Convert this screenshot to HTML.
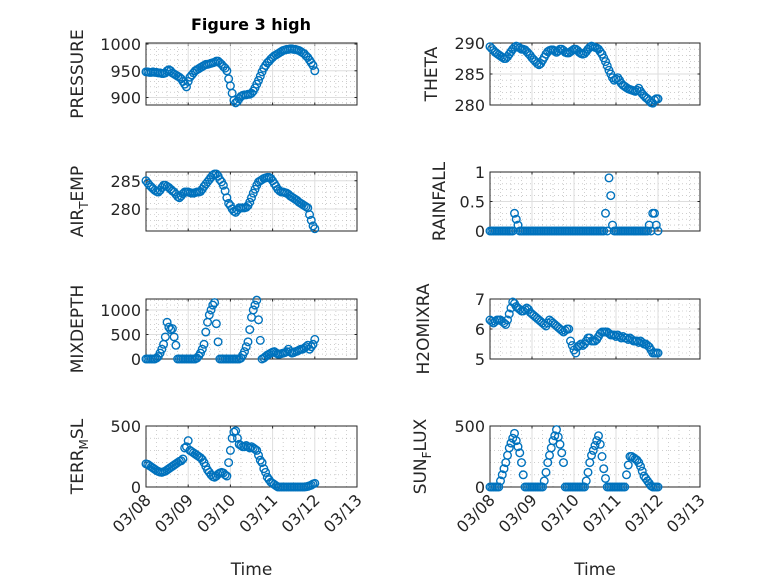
<!DOCTYPE html>
<html><head><meta charset="utf-8"><style>
body{margin:0;background:#fff;}
svg{display:block;font-family:"DejaVu Sans","Liberation Sans",sans-serif;}
</style></head><body>
<svg id="fig" width="778" height="583" viewBox="0 0 778 583">
<rect width="778" height="583" fill="#fff"/>
<text x="251" y="30" text-anchor="middle" font-size="16" font-weight="bold" fill="#000">Figure 3 high</text>
</svg>
<script>
const hoursDays = ['03/08','03/09','03/10','03/11','03/12','03/13'];
const pressure = [948,948,947,947,948,947,947,946,946,945,945,946,
950,952,950,946,944,942,940,938,935,930,925,920,
930,938,942,946,950,952,954,956,958,960,962,962,
963,964,965,966,968,968,965,962,958,955,950,935,
922,908,895,890,893,898,902,904,905,905,906,906,
908,912,918,925,932,940,948,955,960,965,968,972,
975,978,980,982,984,986,988,989,990,990,991,991,
990,990,989,988,986,984,982,978,975,970,965,960,950];
const airTemp = [285,284.6,284.2,283.9,283.6,283.3,283.1,283.0,283.3,283.8,284.2,284.2,
284.0,283.8,283.5,283.2,283.0,282.6,282.2,282.0,282.3,282.7,283.0,283.0,
283.0,282.9,282.8,282.8,282.9,283.0,283.0,283.1,283.5,284.0,284.4,284.8,
285.2,285.6,286.0,286.2,286.2,285.8,285.2,284.8,284.2,283.2,282.0,281.0,
280.6,280.0,279.6,279.4,279.8,280.2,280.2,280.2,280.2,280.3,280.6,281.2,
282.0,282.8,283.5,284.2,284.8,285.0,285.2,285.4,285.5,285.6,285.6,285.4,
285.0,284.5,284.0,283.5,283.2,283.0,283.0,282.9,282.8,282.6,282.3,282.1,
281.9,281.7,281.5,281.2,281.0,280.8,280.6,280.4,280.2,279.0,278.0,277.0,276.5];
const theta = [289.4,289.1,288.8,288.5,288.3,288.1,287.9,287.7,287.5,287.5,287.8,288.2,
288.6,289.0,289.3,289.5,289.4,289.2,289.0,289.0,288.9,288.6,288.3,288.0,
287.6,287.3,287.0,286.7,286.5,286.7,287.2,287.7,288.2,288.6,288.8,288.9,
288.9,288.7,288.5,288.7,289.0,289.0,288.8,288.5,288.4,288.4,288.6,288.8,
289.0,289.0,288.8,288.5,288.3,288.2,288.3,288.6,289.0,289.3,289.5,289.4,
289.3,289.2,289.0,288.6,288.2,287.6,287.0,286.3,285.6,285.0,284.4,284.0,
284.2,284.4,284.0,283.5,283.2,283.0,282.8,282.6,282.5,282.4,282.3,282.2,
282.4,282.7,282.2,281.8,281.5,281.2,281.0,280.7,280.4,280.3,280.8,281.0,281.0];
const rainfall = [0,0,0,0,0,0,0,0,0,0,0,0,
0,0,0.3,0.2,0.1,0,0,0,0,0,0,0,
0,0,0,0,0,0,0,0,0,0,0,0,
0,0,0,0,0,0,0,0,0,0,0,0,
0,0,0,0,0,0,0,0,0,0,0,0,
0,0,0,0,0,0,0.3,0,0.9,0.6,0.1,0,
0,0,0,0,0,0,0,0,0,0,0,0,
0,0,0,0,0,0,0,0.1,0,0.3,0.3,0.1,0];
const mixDepth = [0,0,0,0,0,0,20,50,120,200,300,450,
750,650,600,620,450,280,0,0,0,0,0,0,
0,0,0,0,0,20,60,120,200,300,550,750,
900,1000,1100,1150,720,350,0,0,0,0,0,0,
0,0,0,0,0,0,20,80,150,250,350,600,
850,1000,1100,1200,800,380,0,20,50,80,100,120,
140,150,120,100,100,110,120,130,150,200,150,120,
130,150,160,180,200,200,220,250,280,200,250,300,400];
const h2oMix = [6.3,6.25,6.2,6.25,6.3,6.3,6.3,6.25,6.2,6.15,6.3,6.5,
6.7,6.9,6.85,6.75,6.7,6.65,6.6,6.6,6.65,6.7,6.65,6.55,
6.5,6.45,6.4,6.35,6.3,6.25,6.2,6.15,6.1,6.2,6.3,6.25,
6.2,6.15,6.1,6.05,6.0,5.95,5.9,5.95,6.0,6.0,5.6,5.45,
5.3,5.2,5.4,5.45,5.5,5.45,5.5,5.6,5.7,5.7,5.6,5.6,
5.6,5.65,5.75,5.85,5.9,5.9,5.9,5.9,5.85,5.8,5.8,5.8,
5.75,5.8,5.75,5.7,5.75,5.7,5.7,5.65,5.7,5.65,5.6,5.6,
5.6,5.55,5.6,5.55,5.5,5.5,5.45,5.4,5.3,5.2,5.2,5.2,5.2];
const terrMsl = [190,185,175,165,155,145,135,128,122,120,125,130,
140,150,160,170,180,190,200,210,215,230,320,330,
380,300,290,280,270,260,250,240,225,200,170,140,
120,100,85,80,90,105,115,120,115,100,90,200,
300,400,450,460,400,350,340,330,330,340,330,320,
330,320,310,300,260,220,200,150,120,80,60,40,
30,20,10,0,0,0,0,0,0,0,0,0,
0,0,0,0,0,0,0,2,5,10,15,25,30];
const sunFlux = [0,0,0,0,0,0,50,100,150,200,260,320,
360,400,440,380,330,280,200,100,0,0,0,0,
0,0,0,0,0,0,0,50,120,200,260,320,
380,420,470,410,350,280,200,0,0,0,0,0,
0,0,0,0,0,0,0,50,120,200,260,300,
340,380,420,350,250,150,70,0,0,0,0,0,
0,0,0,0,0,0,100,180,250,250,240,230,
220,200,170,130,90,70,50,30,10,0,0,0,0];

const pressureTicks=[900,950,1000], airTicks=[280,285], thetaTicks=[280,285,290],
rainTicks=[0,0.5,1], mixTicks=[0,500,1000], h2oTicks=[5,6,7], terrTicks=[0,500], sunTicks=[0,500];

const NS='http://www.w3.org/2000/svg';
const svg=document.getElementById('fig');
function mk(tag,attrs,parent){const e=document.createElementNS(NS,tag);for(const k in attrs)e.setAttribute(k,attrs[k]);(parent||svg).appendChild(e);return e;}

const cols=[[146,357],[490,700]];
const rows=[[43,105],[172,231],[299,359],[426,487]];
const panels=[
 {name:'pressure',col:0,row:0,data:pressure,ticks:pressureTicks,ylim:[886,1002],minor:10,label:['PRESSURE'],lx:77},
 {name:'theta',col:1,row:0,data:theta,ticks:thetaTicks,ylim:[280,290],minor:1,label:['THETA'],lx:431},
 {name:'air-temp',col:0,row:1,data:airTemp,ticks:airTicks,ylim:[276.1,286.55],minor:1,label:['AIR','T','EMP'],lx:77},
 {name:'rainfall',col:1,row:1,data:rainfall,ticks:rainTicks,ylim:[0,1],minor:0.1,label:['RAINFALL'],lx:439},
 {name:'mixdepth',col:0,row:2,data:mixDepth,ticks:mixTicks,ylim:[0,1224],minor:100,label:['MIXDEPTH'],lx:77},
 {name:'h2omixra',col:1,row:2,data:h2oMix,ticks:h2oTicks,ylim:[5,7],minor:0.2,label:['H2OMIXRA'],lx:423},
 {name:'terr-msl',col:0,row:3,data:terrMsl,ticks:terrTicks,ylim:[0,500],minor:100,label:['TERR','M','SL'],lx:77},
 {name:'sun-flux',col:1,row:3,data:sunFlux,ticks:sunTicks,ylim:[0,500],minor:100,label:['SUN','F','LUX'],lx:420}
];

panels.forEach(p=>{
 const [x0,x1]=cols[p.col],[y0,y1]=rows[p.row];
 const xs=h=>x0+(x1-x0)*h/120;
 const ys=v=>y1-(y1-y0)*(v-p.ylim[0])/(p.ylim[1]-p.ylim[0]);
 const g=mk('g',{});
 
 
 mk('rect',{x:x0,y:y0,width:x1-x0,height:y1-y0,fill:'#fff'},g);
 for(let h=6;h<120;h+=6){if(h%24)mk('line',{x1:xs(h),x2:xs(h),y1:y0,y2:y1,stroke:'#b0b0b0','stroke-width':0.6,'stroke-dasharray':'1 3'},g);}
 const s=Math.ceil(p.ylim[0]/p.minor)*p.minor;
 for(let v=s;v<p.ylim[1];v+=p.minor){if(!p.ticks.some(t=>Math.abs(t-v)<1e-6))mk('line',{x1:x0,x2:x1,y1:ys(v),y2:ys(v),stroke:'#b0b0b0','stroke-width':0.6,'stroke-dasharray':'1 3'},g);}
 hoursDays.forEach((d,i)=>{const x=xs(i*24);
  mk('line',{x1:x,x2:x,y1:y0,y2:y1,stroke:'#dedede','stroke-width':1},g);
  mk('line',{x1:x,x2:x,y1:y1,y2:y1-2.5,stroke:'#262626'},g);
  mk('line',{x1:x,x2:x,y1:y0,y2:y0+2.5,stroke:'#262626'},g);
  if(p.row===3){const t=mk('text',{x:x+6,y:y1+14,'text-anchor':'end','font-size':16,fill:'#262626',transform:`rotate(-45 ${x+6} ${y1+14})`},g);t.textContent=d;
   }
 });
 p.ticks.forEach(v=>{const y=ys(v);
  mk('line',{x1:x0,x2:x1,y1:y,y2:y,stroke:'#dedede','stroke-width':1},g);
  mk('line',{x1:x0,x2:x0+2.5,y1:y,y2:y,stroke:'#262626'},g);
  mk('line',{x1:x1,x2:x1-2.5,y1:y,y2:y,stroke:'#262626'},g);
  const t=mk('text',{x:x0-5,y:y+6,'text-anchor':'end','font-size':16,fill:'#262626'},g);t.textContent=String(v);
  
 });
 mk('rect',{x:x0,y:y0,width:x1-x0,height:y1-y0,fill:'none',stroke:'#262626','stroke-width':1},g);
 p.data.forEach((v,h)=>{const c=mk('circle',{cx:xs(h),cy:ys(v),r:3.8,fill:'none',stroke:'#0072BD','stroke-width':1.4},g);
  });
 const cy=(y0+y1)/2;
 const t=mk('text',{x:p.lx,y:cy,'text-anchor':'middle','font-size':17,fill:'#262626',transform:`rotate(-90 ${p.lx} ${cy}) translate(0 6)`},g);
 
 if(p.label.length===1)t.textContent=p.label[0];
 else{const a=mk('tspan',{},t);a.textContent=p.label[0];
  const b=mk('tspan',{dy:5,'font-size':12},t);b.textContent=p.label[1];
  const c=mk('tspan',{dy:-5},t);c.textContent=p.label[2];}
 if(p.row===3){const tt=mk('text',{x:(x0+x1)/2,y:575,'text-anchor':'middle','font-size':17,fill:'#262626'},g);tt.textContent='Time';
  }
});
</script>
</body></html>
